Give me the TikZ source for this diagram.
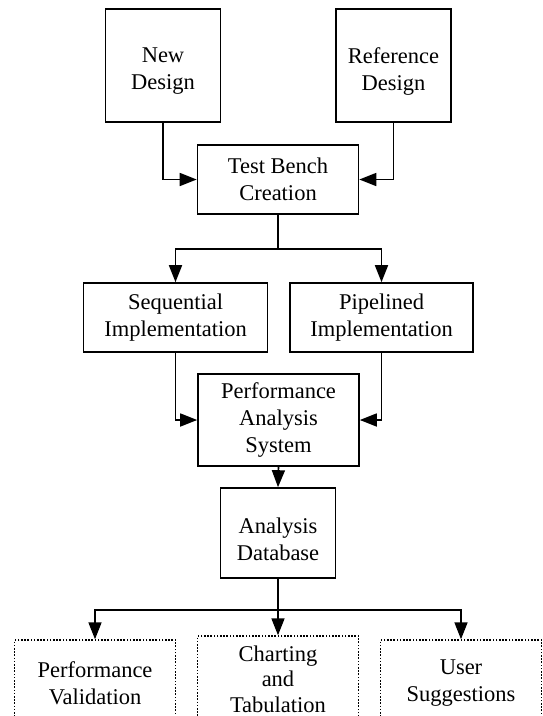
\documentclass[tikz,border=0pt]{standalone}
\usepackage{fontspec}
\setmainfont{Liberation Serif}
\usetikzlibrary{shapes.geometric,arrows.meta}
\tikzset{
  block/.style={draw, line width=1.6pt, align=center, minimum width=161pt, minimum height=69pt, inner sep=0pt},
  store/.style={draw, cylinder, shape border rotate=90, aspect=0.48, anchor=shape center, line width=1.6pt, inner sep=0pt},
  storetext/.style={align=center, inner sep=0pt},
  result/.style={draw, dash pattern=on 1.6pt off 1.6pt, line width=1.4pt, align=center, minimum width=161pt, minimum height=86pt, inner sep=0pt},
  flow/.style={line width=1.6pt, -{Triangle[length=17pt,width=13pt]}},
  wire/.style={line width=1.6pt}
}

\begin{document}
\begin{tikzpicture}[x=1pt,y=-1pt, font=\fontsize{22.5}{27}\selectfont]
\useasboundingbox (0,0) rectangle (542,716);
\clip (0,0) rectangle (542,716);
% Design sources
\node[store, minimum width=115pt, minimum height=113pt] (newdesign) at (163,65.5) {};
\node[storetext] (newdesigntext) at (163,71.5) {New\\Design};
\node[store, minimum width=115pt, minimum height=113pt] (refdesign) at (393.5,65.5) {};
\node[storetext] (refdesigntext) at (393.5,71.5) {Reference\\Design};
% Test bench
\node[block] (testbench) at (278,179.5) {Test Bench\\Creation};
\draw[flow] (newdesign.south) |- (testbench.west);
\draw[flow] (refdesign.south) |- (testbench.east);
% Implementations
\node[block, minimum width=184pt] (sequential) at (175.5,317.5) {Sequential\\Implementation};
\node[block, minimum width=183pt] (pipelined) at (381.5,317.5) {Pipelined\\Implementation};
\draw[wire] (testbench.south) -- ++(0,34) coordinate (split1);
\draw[flow] (split1) -| (sequential.north);
\draw[flow] (split1) -| (pipelined.north);
% Analysis
\node[block, minimum height=92pt] (analysis) at (278.5,420) {Performance\\Analysis\\System};
\draw[flow] (sequential.south) |- (analysis.west);
\draw[flow] (pipelined.south) |- (analysis.east);
\node[store, aspect=0.42, minimum width=115pt, minimum height=90pt] (database) at (278,533) {};
\node[storetext] (databasetext) at (278,539.5) {Analysis\\Database};
\draw[flow] (analysis.south) -- (database.north);
% Outputs
\node[result] (validation) at (95,683) {Performance\\Validation};
\node[result, font=\fontsize{22.5}{25.5}\selectfont] (charting) at (278,679) {Charting\\and\\Tabulation};
\node[result] (suggestions) at (461,683) {User\\Suggestions};
\draw[wire] (database.south) -- ++(0,31) coordinate (split2);
\draw[flow] (split2) -| (validation.north);
\draw[flow] (split2) -- (charting.north);
\draw[flow] (split2) -| (suggestions.north);
\end{tikzpicture}
\end{document}
